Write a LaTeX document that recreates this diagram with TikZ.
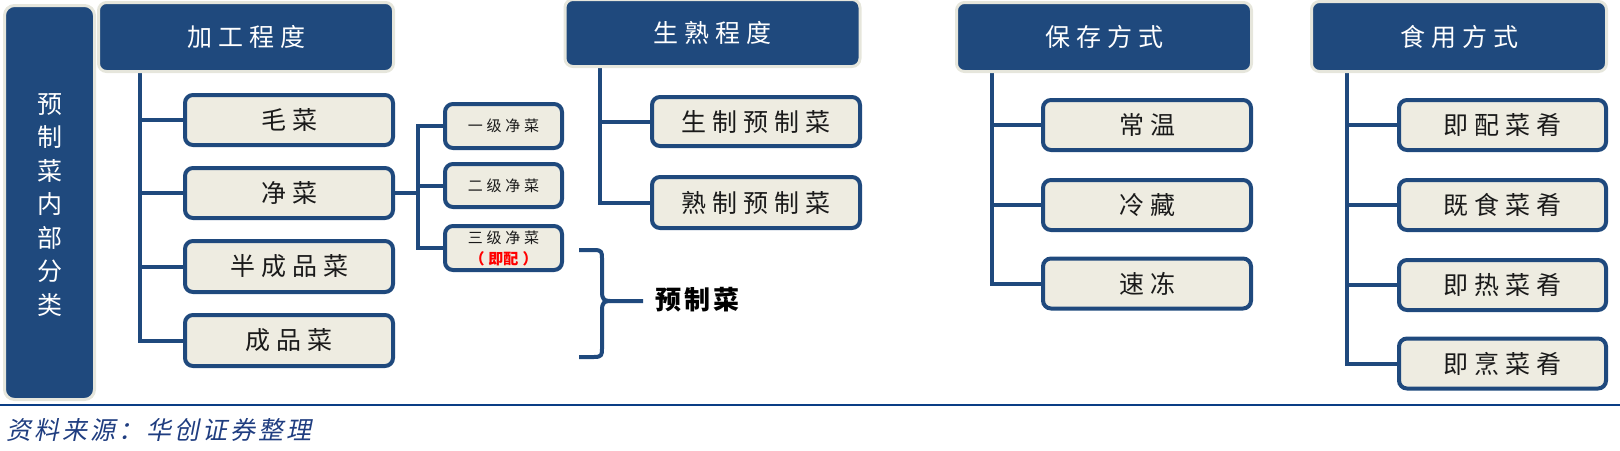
\documentclass[tikz,border=0pt]{standalone}
\usepackage{fontspec}
\setmainfont{Noto Sans CJK SC}
\newfontfamily\cjksp[LetterSpace=24]{Noto Sans CJK SC}
\newfontfamily\cjksm[LetterSpace=25]{Noto Sans CJK SC}
\newfontfamily\cjkbr[LetterSpace=12]{Noto Sans CJK SC}
\newfontfamily\cjkit[FakeSlant=0.2,LetterSpace=12]{Noto Sans CJK SC}
\definecolor{mynavy}{HTML}{1F497D}
\definecolor{mytan}{HTML}{EEECE1}
\definecolor{myborder}{HTML}{E6E6DC}
\definecolor{myrule}{HTML}{0A3D85}
\definecolor{myfoot}{HTML}{1F3D80}
\definecolor{mytext}{HTML}{1A1A1A}
\pgfdeclarelayer{bg}
\pgfsetlayers{bg,main}
\tikzset{
  hdr/.style={rounded corners=8pt, fill=mynavy, draw=myborder, line width=3pt, text=white,
    font=\cjksp\fontsize{25}{30}\selectfont, minimum width=295pt, minimum height=69pt, inner sep=0pt},
  item/.style={rounded corners=8pt, fill=mytan, draw=mynavy, line width=4pt, text=mytext,
    font=\cjksp\fontsize{25}{30}\selectfont, minimum width=208pt, minimum height=50pt, inner sep=0pt},
  subitem/.style={item, font=\cjksm\fontsize{15}{21}\selectfont, minimum width=117pt, minimum height=44pt, align=center},
  conn/.style={draw=mynavy, line width=4pt},
}
\begin{document}
\begin{tikzpicture}[x=1pt,y=-1pt]
\useasboundingbox (0,0) rectangle (1620,450);

% left tall box
\node[fill=mynavy, draw=myborder, line width=3pt, rounded corners=10pt, minimum width=90pt, minimum height=394pt, inner sep=0pt] (L) at (49.5,202.5) {};
\node[text=white, align=center, font=\fontsize{25}{33.5}\selectfont, inner sep=0pt] (Ltxt) at (49.5,205) {预\\制\\菜\\内\\部\\分\\类};

% headers
\node[hdr] (h1) at (246,37) {加工程度};
\node[hdr, minimum height=67pt] (h2) at (712.5,33) {生熟程度};
\node[hdr] (h3) at (1104,37) {保存方式};
\node[hdr, minimum height=70pt] (h4) at (1459,36.5) {食用方式};

% column 1
\node[item] (c11) at (289,120) {毛菜};
\node[item] (c12) at (289,193) {净菜};
\node[item, minimum height=51pt] (c13) at (289,266.5) {半成品菜};
\node[item, minimum height=51pt] (c14) at (289,340.5) {成品菜};

% sub boxes
\node[subitem] (s1) at (503.5,126) {一级净菜};
\node[subitem, minimum height=43pt] (s2) at (503.5,185.5) {二级净菜};
\node[subitem] (s3) at (503.5,248) {三级净菜\\[0pt]{\fontspec{Noto Sans CJK SC}\bfseries\color{red}\fontsize{15}{18}\selectfont （\hspace{4pt}即配\hspace{4pt}）}};

% column 2
\node[item, minimum height=49pt] (g1) at (756,121.5) {生制预制菜};
\node[item, minimum height=51pt] (g2) at (756,202.5) {熟制预制菜};

% column 3
\node[item] (b1) at (1147,125) {常温};
\node[item] (b2) at (1147,205) {冷藏};
\node[item] (b3) at (1147,283.5) {速冻};

% column 4
\node[item, minimum width=207pt] (e1) at (1502.5,125) {即配菜肴};
\node[item, minimum width=207pt] (e2) at (1502.5,205) {既食菜肴};
\node[item, minimum width=207pt] (e3) at (1502.5,285) {即热菜肴};
\node[item, minimum width=207pt] (e4) at (1502.5,363.5) {即烹菜肴};

% trunk coordinates
\coordinate (t1) at (140,0);
\coordinate (t2) at (600,0);
\coordinate (t3) at (992,0);
\coordinate (t4) at (1347,0);
\coordinate (t5) at (418,0);

\begin{pgfonlayer}{bg}
\draw[conn] (h1.south -| t1) |- (c14.west);
\foreach \n in {c11,c12,c13} \draw[conn] (t1 |- \n.west) -- (\n.west);
\draw[conn] (h2.south -| t2) |- (g2.west);
\draw[conn] (t2 |- g1.west) -- (g1.west);
\draw[conn] (h3.south -| t3) |- (b3.west);
\foreach \n in {b1,b2} \draw[conn] (t3 |- \n.west) -- (\n.west);
\draw[conn] (h4.south -| t4) |- (e4.west);
\foreach \n in {e1,e2,e3} \draw[conn] (t4 |- \n.west) -- (\n.west);
\draw[conn] (c12.east) -- (t5 |- c12.east);
\draw[conn] (s1.west) -| (t5 |- s3.west) -- (s3.west);
\draw[conn] (t5 |- s2.west) -- (s2.west);
\end{pgfonlayer}

% brace
\coordinate (bt) at (579,250);
\coordinate (bb) at (579,357);
\coordinate (bm) at (643,301);
\draw[conn, line join=round] (bt) -- (594,250) .. controls (602,250) and (602,252) .. (602,259)
  -- (602,292) .. controls (602,299) and (604,301) .. (610,301) -- (bm);
\draw[conn, line join=round] (bb) -- (594,357) .. controls (602,357) and (602,355) .. (602,348)
  -- (602,310) .. controls (602,303) and (604,301) .. (610,301);
\node[font=\cjkbr\bfseries\fontsize{26}{30}\selectfont, text=black, anchor=west, inner sep=0pt] (pz) at (655,300) {预制菜};

% footer
\coordinate (r1) at (0,405);
\coordinate (r2) at (1620,405);
\draw[line width=2.5pt, myrule] (r1) -- (r2);
\node[font=\cjkit\fontsize{25}{28}\selectfont, text=myfoot, anchor=west, inner sep=0pt] (foot) at (6,430) {资料来源：华创证券整理};
\end{tikzpicture}
\end{document}
